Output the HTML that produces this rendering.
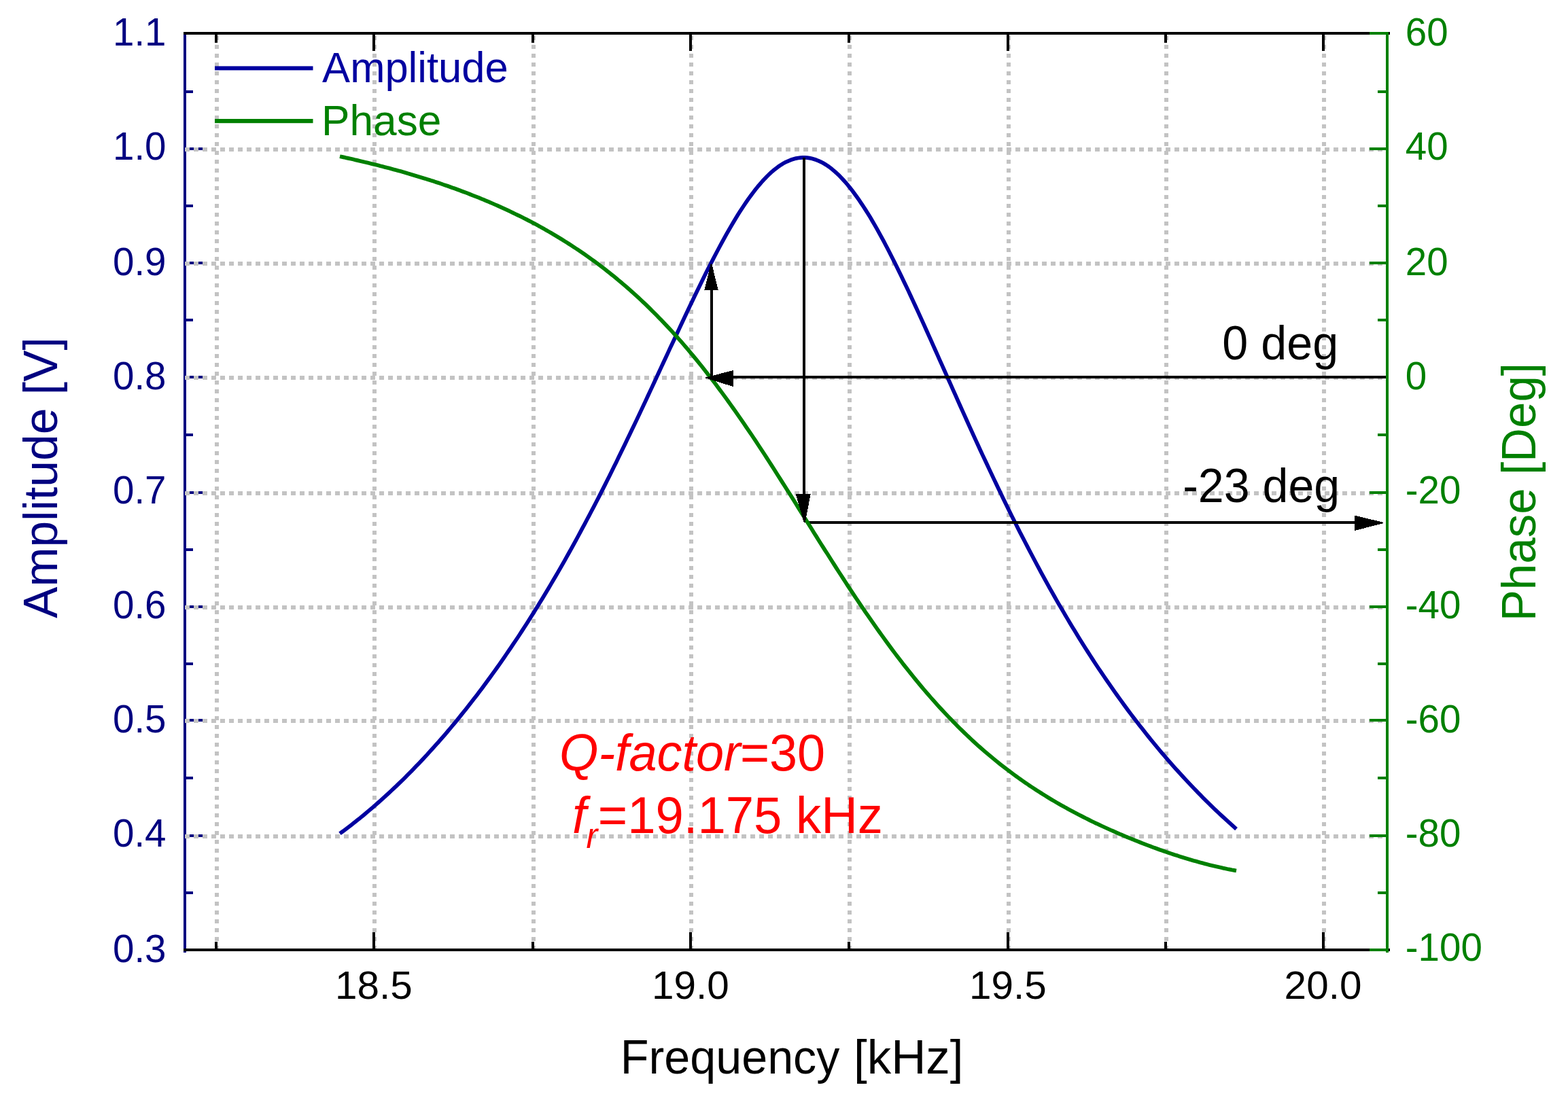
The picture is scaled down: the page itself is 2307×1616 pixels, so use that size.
<!DOCTYPE html>
<html lang="en"><head><meta charset="utf-8"><title>Amplitude and Phase vs Frequency</title>
<style>html,body{margin:0;padding:0;background:#fff;}body{width:2307px;height:1616px;overflow:hidden;}svg{display:block;}text{font-family:'Liberation Sans', sans-serif;}</style>
</head><body>
<svg width="2307" height="1616" viewBox="0 0 2307 1616">
<rect x="0" y="0" width="2307" height="1616" fill="#ffffff"/>
<g id="left-axis" fill="#000080" shape-rendering="crispEdges">
<rect x="270" y="51" width="4" height="1351"/>
<rect x="274" y="1228" width="24" height="4"/>
<rect x="274" y="1058" width="24" height="4"/>
<rect x="274" y="891" width="24" height="4"/>
<rect x="274" y="723" width="24" height="4"/>
<rect x="274" y="553" width="24" height="4"/>
<rect x="274" y="385" width="24" height="4"/>
<rect x="274" y="217" width="24" height="4"/>
<rect x="274" y="1312" width="10" height="4"/>
<rect x="274" y="1143" width="10" height="4"/>
<rect x="274" y="974.5" width="10" height="4"/>
<rect x="274" y="807" width="10" height="4"/>
<rect x="274" y="638" width="10" height="4"/>
<rect x="274" y="469" width="10" height="4"/>
<rect x="274" y="301" width="10" height="4"/>
<rect x="274" y="133" width="10" height="4"/>
</g>
<g id="grid" stroke="#c3c3c3" stroke-width="6" stroke-dasharray="6.5 6.5" fill="none" shape-rendering="crispEdges">
<line x1="272" y1="1231" x2="2039" y2="1231"/>
<line x1="272" y1="1061" x2="2039" y2="1061"/>
<line x1="272" y1="894" x2="2039" y2="894"/>
<line x1="272" y1="726" x2="2039" y2="726"/>
<line x1="272" y1="556" x2="2039" y2="556"/>
<line x1="272" y1="388" x2="2039" y2="388"/>
<line x1="272" y1="220" x2="2039" y2="220"/>
<line x1="319" y1="52.7" x2="319" y2="1396"/>
<line x1="551" y1="52.7" x2="551" y2="1396"/>
<line x1="785.3" y1="52.7" x2="785.3" y2="1396"/>
<line x1="1017.4" y1="52.7" x2="1017.4" y2="1396"/>
<line x1="1249.8" y1="52.7" x2="1249.8" y2="1396"/>
<line x1="1483.8" y1="52.7" x2="1483.8" y2="1396"/>
<line x1="1716" y1="52.7" x2="1716" y2="1396"/>
<line x1="1948" y1="52.7" x2="1948" y2="1396"/>
</g>
<path id="amplitude-curve" d="M500.0 1226.8 L503.3 1224.4 L506.6 1221.9 L509.9 1219.4 L513.2 1216.9 L516.5 1214.4 L519.8 1211.8 L523.1 1209.2 L526.4 1206.5 L529.8 1203.9 L533.1 1201.2 L536.4 1198.5 L539.7 1195.7 L543.0 1192.9 L546.3 1190.1 L549.6 1187.3 L552.9 1184.4 L556.2 1181.5 L559.5 1178.6 L562.8 1175.6 L566.1 1172.7 L569.4 1169.6 L572.7 1166.6 L576.0 1163.5 L579.3 1160.4 L582.6 1157.3 L585.9 1154.1 L589.3 1150.9 L592.6 1147.7 L595.9 1144.4 L599.2 1141.1 L602.5 1137.8 L605.8 1134.4 L609.1 1131.0 L612.4 1127.6 L615.7 1124.2 L619.0 1120.7 L622.3 1117.2 L625.6 1113.6 L628.9 1110.1 L632.2 1106.4 L635.5 1102.8 L638.8 1099.1 L642.1 1095.4 L645.5 1091.7 L648.8 1087.9 L652.1 1084.1 L655.4 1080.3 L658.7 1076.4 L662.0 1072.5 L665.3 1068.5 L668.6 1064.6 L671.9 1060.6 L675.2 1056.5 L678.5 1052.4 L681.8 1048.3 L685.1 1044.2 L688.4 1040.0 L691.7 1035.8 L695.0 1031.6 L698.3 1027.3 L701.7 1022.9 L705.0 1018.6 L708.3 1014.2 L711.6 1009.8 L714.9 1005.3 L718.2 1000.8 L721.5 996.3 L724.8 991.7 L728.1 987.1 L731.4 982.5 L734.7 977.8 L738.0 973.1 L741.3 968.3 L744.6 963.5 L747.9 958.7 L751.2 953.8 L754.5 948.9 L757.8 944.0 L761.2 939.0 L764.5 934.0 L767.8 928.9 L771.1 923.8 L774.4 918.7 L777.7 913.5 L781.0 908.3 L784.3 903.1 L787.6 897.8 L790.9 892.4 L794.2 887.1 L797.5 881.7 L800.8 876.2 L804.1 870.7 L807.4 865.2 L810.7 859.6 L814.0 854.0 L817.4 848.3 L820.7 842.6 L824.0 836.9 L827.3 831.1 L830.6 825.3 L833.9 819.4 L837.2 813.5 L840.5 807.6 L843.8 801.6 L847.1 795.6 L850.4 789.5 L853.7 783.4 L857.0 777.2 L860.3 771.1 L863.6 764.8 L866.9 758.6 L870.2 752.2 L873.6 745.9 L876.9 739.5 L880.2 733.1 L883.5 726.6 L886.8 720.1 L890.1 713.6 L893.4 707.0 L896.7 700.4 L900.0 693.8 L903.3 687.1 L906.6 680.4 L909.9 673.6 L913.2 666.8 L916.5 660.0 L919.8 653.2 L923.1 646.3 L926.4 639.5 L929.7 632.5 L933.1 625.6 L936.4 618.6 L939.7 611.6 L943.0 604.6 L946.3 597.6 L949.6 590.6 L952.9 583.5 L956.2 576.4 L959.5 569.4 L962.8 562.3 L966.1 555.1 L969.4 548.0 L972.7 540.9 L976.0 533.8 L979.3 526.7 L982.6 519.6 L985.9 512.4 L989.3 505.3 L992.6 498.2 L995.9 491.2 L999.2 484.1 L1002.5 477.0 L1005.8 470.0 L1009.1 463.0 L1012.4 456.0 L1015.7 449.1 L1019.0 442.2 L1022.3 435.3 L1025.6 428.5 L1028.9 421.7 L1032.2 414.9 L1035.5 408.3 L1038.8 401.6 L1042.1 395.0 L1045.5 388.5 L1048.8 382.1 L1052.1 375.7 L1055.4 369.5 L1058.7 363.2 L1062.0 357.1 L1065.3 351.1 L1068.6 345.2 L1071.9 339.3 L1075.2 333.6 L1078.5 328.0 L1081.8 322.5 L1085.1 317.1 L1088.4 311.8 L1091.7 306.7 L1095.0 301.7 L1098.3 296.8 L1101.6 292.1 L1105.0 287.5 L1108.3 283.1 L1111.6 278.8 L1114.9 274.7 L1118.2 270.8 L1121.5 267.0 L1124.8 263.4 L1128.1 260.0 L1131.4 256.8 L1134.7 253.7 L1138.0 250.8 L1141.3 248.2 L1144.6 245.7 L1147.9 243.4 L1151.2 241.3 L1154.5 239.4 L1157.8 237.8 L1161.2 236.3 L1164.5 235.0 L1167.8 234.0 L1171.1 233.1 L1174.4 232.5 L1177.7 232.1 L1181.0 231.9 L1184.3 231.9 L1187.6 232.2 L1190.9 232.6 L1194.2 233.3 L1197.5 234.2 L1200.8 235.3 L1204.1 236.6 L1207.4 238.1 L1210.7 239.8 L1214.0 241.8 L1217.4 243.9 L1220.7 246.3 L1224.0 248.8 L1227.3 251.6 L1230.6 254.5 L1233.9 257.6 L1237.2 261.0 L1240.5 264.5 L1243.8 268.2 L1247.1 272.0 L1250.4 276.1 L1253.7 280.3 L1257.0 284.7 L1260.3 289.2 L1263.6 293.9 L1266.9 298.8 L1270.2 303.8 L1273.5 308.9 L1276.9 314.2 L1280.2 319.6 L1283.5 325.2 L1286.8 330.9 L1290.1 336.7 L1293.4 342.6 L1296.7 348.6 L1300.0 354.7 L1303.3 361.0 L1306.6 367.3 L1309.9 373.7 L1313.2 380.2 L1316.5 386.8 L1319.8 393.5 L1323.1 400.3 L1326.4 407.1 L1329.7 414.0 L1333.1 420.9 L1336.4 427.9 L1339.7 435.0 L1343.0 442.1 L1346.3 449.2 L1349.6 456.4 L1352.9 463.6 L1356.2 470.9 L1359.5 478.2 L1362.8 485.5 L1366.1 492.9 L1369.4 500.2 L1372.7 507.6 L1376.0 515.0 L1379.3 522.4 L1382.6 529.8 L1385.9 537.2 L1389.3 544.7 L1392.6 552.1 L1395.9 559.5 L1399.2 566.9 L1402.5 574.3 L1405.8 581.7 L1409.1 589.1 L1412.4 596.5 L1415.7 603.9 L1419.0 611.2 L1422.3 618.5 L1425.6 625.8 L1428.9 633.1 L1432.2 640.4 L1435.5 647.6 L1438.8 654.8 L1442.1 662.0 L1445.4 669.1 L1448.8 676.2 L1452.1 683.3 L1455.4 690.4 L1458.7 697.4 L1462.0 704.4 L1465.3 711.3 L1468.6 718.2 L1471.9 725.1 L1475.2 731.9 L1478.5 738.7 L1481.8 745.5 L1485.1 752.2 L1488.4 758.9 L1491.7 765.5 L1495.0 772.1 L1498.3 778.6 L1501.6 785.2 L1505.0 791.6 L1508.3 798.0 L1511.6 804.4 L1514.9 810.8 L1518.2 817.0 L1521.5 823.3 L1524.8 829.5 L1528.1 835.7 L1531.4 841.8 L1534.7 847.8 L1538.0 853.9 L1541.3 859.8 L1544.6 865.8 L1547.9 871.7 L1551.2 877.5 L1554.5 883.3 L1557.8 889.1 L1561.2 894.8 L1564.5 900.4 L1567.8 906.1 L1571.1 911.6 L1574.4 917.2 L1577.7 922.7 L1581.0 928.1 L1584.3 933.5 L1587.6 938.9 L1590.9 944.2 L1594.2 949.5 L1597.5 954.7 L1600.8 959.9 L1604.1 965.0 L1607.4 970.1 L1610.7 975.2 L1614.0 980.2 L1617.3 985.2 L1620.7 990.1 L1624.0 995.0 L1627.3 999.9 L1630.6 1004.7 L1633.9 1009.4 L1637.2 1014.2 L1640.5 1018.9 L1643.8 1023.5 L1647.1 1028.1 L1650.4 1032.7 L1653.7 1037.2 L1657.0 1041.7 L1660.3 1046.2 L1663.6 1050.6 L1666.9 1055.0 L1670.2 1059.3 L1673.5 1063.6 L1676.9 1067.9 L1680.2 1072.1 L1683.5 1076.3 L1686.8 1080.5 L1690.1 1084.6 L1693.4 1088.7 L1696.7 1092.7 L1700.0 1096.7 L1703.3 1100.7 L1706.6 1104.7 L1709.9 1108.6 L1713.2 1112.4 L1716.5 1116.3 L1719.8 1120.1 L1723.1 1123.9 L1726.4 1127.6 L1729.7 1131.3 L1733.1 1135.0 L1736.4 1138.7 L1739.7 1142.3 L1743.0 1145.9 L1746.3 1149.4 L1749.6 1152.9 L1752.9 1156.4 L1756.2 1159.9 L1759.5 1163.3 L1762.8 1166.7 L1766.1 1170.1 L1769.4 1173.4 L1772.7 1176.7 L1776.0 1180.0 L1779.3 1183.2 L1782.6 1186.5 L1785.9 1189.7 L1789.2 1192.8 L1792.6 1196.0 L1795.9 1199.1 L1799.2 1202.2 L1802.5 1205.2 L1805.8 1208.2 L1809.1 1211.2 L1812.4 1214.2 L1815.7 1217.1 L1819.0 1220.1" fill="none" stroke="#0000a0" stroke-width="5.7" stroke-linejoin="round" stroke-linecap="butt"/>
<rect x="1186" y="766.8" width="810" height="4" fill="#000" shape-rendering="crispEdges"/>
<path id="phase-curve" d="M500.0 230.2 L503.3 230.9 L506.6 231.6 L509.9 232.4 L513.2 233.1 L516.5 233.8 L519.8 234.6 L523.1 235.4 L526.4 236.1 L529.8 236.9 L533.1 237.7 L536.4 238.5 L539.7 239.2 L543.0 240.1 L546.3 240.9 L549.6 241.7 L552.9 242.5 L556.2 243.3 L559.5 244.2 L562.8 245.0 L566.1 245.9 L569.4 246.8 L572.7 247.6 L576.0 248.5 L579.3 249.4 L582.6 250.3 L585.9 251.2 L589.3 252.1 L592.6 253.1 L595.9 254.0 L599.2 255.0 L602.5 255.9 L605.8 256.9 L609.1 257.9 L612.4 258.9 L615.7 259.9 L619.0 260.9 L622.3 261.9 L625.6 262.9 L628.9 264.0 L632.2 265.0 L635.5 266.1 L638.8 267.1 L642.1 268.2 L645.5 269.3 L648.8 270.4 L652.1 271.6 L655.4 272.7 L658.7 273.8 L662.0 275.0 L665.3 276.2 L668.6 277.3 L671.9 278.5 L675.2 279.7 L678.5 281.0 L681.8 282.2 L685.1 283.4 L688.4 284.7 L691.7 286.0 L695.0 287.3 L698.3 288.6 L701.7 289.9 L705.0 291.2 L708.3 292.6 L711.6 293.9 L714.9 295.3 L718.2 296.7 L721.5 298.1 L724.8 299.5 L728.1 301.0 L731.4 302.4 L734.7 303.9 L738.0 305.4 L741.3 306.9 L744.6 308.4 L747.9 309.9 L751.2 311.5 L754.5 313.1 L757.8 314.7 L761.2 316.3 L764.5 317.9 L767.8 319.5 L771.1 321.2 L774.4 322.9 L777.7 324.6 L781.0 326.3 L784.3 328.1 L787.6 329.8 L790.9 331.6 L794.2 333.4 L797.5 335.3 L800.8 337.1 L804.1 339.0 L807.4 340.9 L810.7 342.8 L814.0 344.7 L817.4 346.7 L820.7 348.7 L824.0 350.7 L827.3 352.7 L830.6 354.8 L833.9 356.9 L837.2 359.0 L840.5 361.1 L843.8 363.3 L847.1 365.5 L850.4 367.7 L853.7 369.9 L857.0 372.2 L860.3 374.4 L863.6 376.8 L866.9 379.1 L870.2 381.5 L873.6 383.9 L876.9 386.3 L880.2 388.8 L883.5 391.3 L886.8 393.8 L890.1 396.3 L893.4 398.9 L896.7 401.5 L900.0 404.2 L903.3 406.8 L906.6 409.5 L909.9 412.3 L913.2 415.0 L916.5 417.8 L919.8 420.7 L923.1 423.5 L926.4 426.4 L929.7 429.4 L933.1 432.4 L936.4 435.4 L939.7 438.4 L943.0 441.5 L946.3 444.6 L949.6 447.7 L952.9 450.9 L956.2 454.1 L959.5 457.4 L962.8 460.7 L966.1 464.0 L969.4 467.4 L972.7 470.8 L976.0 474.3 L979.3 477.7 L982.6 481.3 L985.9 484.8 L989.3 488.4 L992.6 492.1 L995.9 495.7 L999.2 499.5 L1002.5 503.2 L1005.8 507.0 L1009.1 510.9 L1012.4 514.7 L1015.7 518.7 L1019.0 522.6 L1022.3 526.6 L1025.6 530.6 L1028.9 534.7 L1032.2 538.8 L1035.5 543.0 L1038.8 547.2 L1042.1 551.4 L1045.5 555.7 L1048.8 560.0 L1052.1 564.3 L1055.4 568.7 L1058.7 573.2 L1062.0 577.6 L1065.3 582.1 L1068.6 586.7 L1071.9 591.2 L1075.2 595.8 L1078.5 600.5 L1081.8 605.2 L1085.1 609.9 L1088.4 614.6 L1091.7 619.4 L1095.0 624.2 L1098.3 629.1 L1101.6 633.9 L1105.0 638.8 L1108.3 643.8 L1111.6 648.7 L1114.9 653.7 L1118.2 658.7 L1121.5 663.8 L1124.8 668.8 L1128.1 673.9 L1131.4 679.0 L1134.7 684.1 L1138.0 689.3 L1141.3 694.5 L1144.6 699.7 L1147.9 704.9 L1151.2 710.1 L1154.5 715.3 L1157.8 720.5 L1161.2 725.8 L1164.5 731.1 L1167.8 736.3 L1171.1 741.6 L1174.4 746.9 L1177.7 752.2 L1181.0 757.5 L1184.3 762.7 L1187.6 768.0 L1190.9 773.3 L1194.2 778.6 L1197.5 783.9 L1200.8 789.1 L1204.1 794.4 L1207.4 799.7 L1210.7 804.9 L1214.0 810.1 L1217.4 815.3 L1220.7 820.6 L1224.0 825.7 L1227.3 830.9 L1230.6 836.1 L1233.9 841.2 L1237.2 846.3 L1240.5 851.4 L1243.8 856.5 L1247.1 861.6 L1250.4 866.6 L1253.7 871.6 L1257.0 876.6 L1260.3 881.5 L1263.6 886.4 L1266.9 891.3 L1270.2 896.2 L1273.5 901.1 L1276.9 905.9 L1280.2 910.7 L1283.5 915.4 L1286.8 920.1 L1290.1 924.8 L1293.4 929.5 L1296.7 934.1 L1300.0 938.7 L1303.3 943.2 L1306.6 947.7 L1309.9 952.2 L1313.2 956.7 L1316.5 961.1 L1319.8 965.5 L1323.1 969.8 L1326.4 974.1 L1329.7 978.4 L1333.1 982.6 L1336.4 986.8 L1339.7 990.9 L1343.0 995.0 L1346.3 999.1 L1349.6 1003.1 L1352.9 1007.1 L1356.2 1011.1 L1359.5 1015.0 L1362.8 1018.8 L1366.1 1022.7 L1369.4 1026.5 L1372.7 1030.2 L1376.0 1033.9 L1379.3 1037.6 L1382.6 1041.2 L1385.9 1044.8 L1389.3 1048.4 L1392.6 1051.9 L1395.9 1055.4 L1399.2 1058.8 L1402.5 1062.2 L1405.8 1065.6 L1409.1 1068.9 L1412.4 1072.2 L1415.7 1075.4 L1419.0 1078.6 L1422.3 1081.8 L1425.6 1084.9 L1428.9 1088.0 L1432.2 1091.1 L1435.5 1094.1 L1438.8 1097.1 L1442.1 1100.0 L1445.4 1102.9 L1448.8 1105.8 L1452.1 1108.6 L1455.4 1111.4 L1458.7 1114.2 L1462.0 1116.9 L1465.3 1119.6 L1468.6 1122.3 L1471.9 1124.9 L1475.2 1127.5 L1478.5 1130.1 L1481.8 1132.6 L1485.1 1135.1 L1488.4 1137.6 L1491.7 1140.0 L1495.0 1142.4 L1498.3 1144.8 L1501.6 1147.1 L1505.0 1149.5 L1508.3 1151.8 L1511.6 1154.0 L1514.9 1156.3 L1518.2 1158.5 L1521.5 1160.6 L1524.8 1162.8 L1528.1 1164.9 L1531.4 1167.0 L1534.7 1169.1 L1538.0 1171.2 L1541.3 1173.2 L1544.6 1175.2 L1547.9 1177.2 L1551.2 1179.1 L1554.5 1181.1 L1557.8 1183.0 L1561.2 1184.9 L1564.5 1186.7 L1567.8 1188.6 L1571.1 1190.4 L1574.4 1192.2 L1577.7 1194.0 L1581.0 1195.8 L1584.3 1197.5 L1587.6 1199.2 L1590.9 1200.9 L1594.2 1202.6 L1597.5 1204.3 L1600.8 1205.9 L1604.1 1207.6 L1607.4 1209.2 L1610.7 1210.8 L1614.0 1212.3 L1617.3 1213.9 L1620.7 1215.5 L1624.0 1217.0 L1627.3 1218.5 L1630.6 1220.0 L1633.9 1221.5 L1637.2 1222.9 L1640.5 1224.4 L1643.8 1225.8 L1647.1 1227.3 L1650.4 1228.7 L1653.7 1230.1 L1657.0 1231.5 L1660.3 1232.8 L1663.6 1234.2 L1666.9 1235.5 L1670.2 1236.9 L1673.5 1238.2 L1676.9 1239.5 L1680.2 1240.8 L1683.5 1242.1 L1686.8 1243.4 L1690.1 1244.6 L1693.4 1245.8 L1696.7 1247.1 L1700.0 1248.3 L1703.3 1249.5 L1706.6 1250.7 L1709.9 1251.8 L1713.2 1253.0 L1716.5 1254.1 L1719.8 1255.3 L1723.1 1256.4 L1726.4 1257.5 L1729.7 1258.6 L1733.1 1259.6 L1736.4 1260.7 L1739.7 1261.7 L1743.0 1262.7 L1746.3 1263.7 L1749.6 1264.7 L1752.9 1265.7 L1756.2 1266.7 L1759.5 1267.6 L1762.8 1268.5 L1766.1 1269.4 L1769.4 1270.3 L1772.7 1271.2 L1776.0 1272.1 L1779.3 1272.9 L1782.6 1273.7 L1785.9 1274.5 L1789.2 1275.3 L1792.6 1276.1 L1795.9 1276.8 L1799.2 1277.6 L1802.5 1278.3 L1805.8 1279.0 L1809.1 1279.6 L1812.4 1280.3 L1815.7 1280.9 L1819.0 1281.5" fill="none" stroke="#008000" stroke-width="5.7" stroke-linejoin="round" stroke-linecap="butt"/>
<g id="x-axes" fill="#000" shape-rendering="crispEdges">
<rect x="270" y="47" width="1775" height="4"/>
<rect x="270" y="1396" width="1775" height="4"/>
<rect x="316" y="51" width="4" height="12"/>
<rect x="316" y="1386" width="4" height="10"/>
<rect x="548" y="51" width="4" height="24"/>
<rect x="548" y="1372" width="4" height="24"/>
<rect x="782.3" y="51" width="4" height="12"/>
<rect x="782.3" y="1386" width="4" height="10"/>
<rect x="1014.4" y="51" width="4" height="24"/>
<rect x="1014.4" y="1372" width="4" height="24"/>
<rect x="1246.8" y="51" width="4" height="12"/>
<rect x="1246.8" y="1386" width="4" height="10"/>
<rect x="1480.8" y="51" width="4" height="24"/>
<rect x="1480.8" y="1372" width="4" height="24"/>
<rect x="1713" y="51" width="4" height="12"/>
<rect x="1713" y="1386" width="4" height="10"/>
<rect x="1945" y="51" width="4" height="24"/>
<rect x="1945" y="1372" width="4" height="24"/>
</g>
<g id="right-axis" fill="#008000" shape-rendering="crispEdges">
<rect x="2039" y="47" width="4" height="1355"/>
<rect x="2015" y="1396" width="24" height="4"/>
<rect x="2015" y="1228" width="24" height="4"/>
<rect x="2015" y="1058" width="24" height="4"/>
<rect x="2015" y="891" width="24" height="4"/>
<rect x="2015" y="723" width="24" height="4"/>
<rect x="2015" y="553" width="24" height="4"/>
<rect x="2015" y="385" width="24" height="4"/>
<rect x="2015" y="217" width="24" height="4"/>
<rect x="2015" y="47" width="24" height="4"/>
<rect x="2027" y="1312" width="12" height="4"/>
<rect x="2027" y="1143" width="12" height="4"/>
<rect x="2027" y="974.5" width="12" height="4"/>
<rect x="2027" y="807" width="12" height="4"/>
<rect x="2027" y="638" width="12" height="4"/>
<rect x="2027" y="469" width="12" height="4"/>
<rect x="2027" y="301" width="12" height="4"/>
<rect x="2027" y="133" width="12" height="4"/>
</g>
<g id="legend">
<rect x="316" y="97.4" width="144.5" height="6" fill="#0000a0"/>
<rect x="316" y="175" width="144.5" height="6.2" fill="#008000"/>
<text transform="translate(474.1,121.2) scale(1.0000,1.0194)" font-size="61.55" fill="#0000a0">Amplitude</text>
<text transform="translate(473.02,199.1) scale(1.0000,1.0129)" font-size="62.21" fill="#008000">Phase</text>
</g>
<g id="annotations" fill="#000" shape-rendering="crispEdges">
<rect x="1180.7" y="232" width="4" height="498"/>
<polygon points="1170.7,727 1192.7,727 1184.7,769 1182.7,769"/>
<polygon points="1993,758.5 1993,781 2035,770.2 2035,768.8"/>
<rect x="1076" y="553" width="963" height="4"/>
<polygon points="1078.7,545 1078.7,569 1038.4,556.5 1038.4,555.5"/>
<rect x="1044.5" y="424" width="4" height="133"/>
<polygon points="1036.3,427 1056.8,427 1047.2,388 1045.8,388"/>
</g>
<g id="left-labels" font-size="56.5" fill="#000080" text-anchor="end">
<text x="244.5" y="67.1">1.1</text>
<text x="244.5" y="234.7">1.0</text>
<text x="244.5" y="404.8">0.9</text>
<text x="244.5" y="572.8">0.8</text>
<text x="244.5" y="740.8">0.7</text>
<text x="244.5" y="910.2">0.6</text>
<text x="244.5" y="1078">0.5</text>
<text x="244.5" y="1246">0.4</text>
<text x="244.5" y="1415.9">0.3</text>
</g>
<g id="right-labels" font-size="56.5" fill="#008000">
<text x="2067.8" y="67.1">60</text>
<text x="2067.8" y="234.7">40</text>
<text x="2067.8" y="404.8">20</text>
<text x="2067.8" y="572.8">0</text>
<text x="2067.8" y="740.8">-20</text>
<text x="2067.8" y="910.2">-40</text>
<text x="2067.8" y="1078">-60</text>
<text x="2067.8" y="1246">-80</text>
<text x="2067.8" y="1413.9">-100</text>
</g>
<g id="bottom-labels" fill="#000">
<text transform="translate(493.09,1470) scale(1.035,1)" font-size="56.5">18.5</text>
<text transform="translate(958.91,1470) scale(1.035,1)" font-size="56.5">19.0</text>
<text transform="translate(1425.89,1470) scale(1.035,1)" font-size="56.5">19.5</text>
<text transform="translate(1889.61,1470) scale(1.035,1)" font-size="56.5">20.0</text>
</g>
<text id="xlabel" transform="translate(0,1580) scale(1,1.02)" font-size="69.3" fill="#000"><tspan x="912.84" y="0" textLength="322.58" lengthAdjust="spacingAndGlyphs">Frequency</tspan> <tspan x="1256.04" y="0" textLength="161.48" lengthAdjust="spacingAndGlyphs">[kHz]</tspan></text>
<text id="ylabel" transform="translate(84.2,910) rotate(-90) scale(1,1.02)" font-size="69.61" fill="#000080">Amplitude [V]</text>
<text id="y2label" transform="translate(2259.1,914.23) rotate(-90) scale(1,1.02)" font-size="69.12" fill="#008000">Phase [Deg]</text>
<text transform="translate(1798.37,528.9) scale(1.0000,1.0200)" font-size="68.25" fill="#000">0 deg</text>
<text transform="translate(1740.18,738.5) scale(1.0000,1.0200)" font-size="68.12" fill="#000">-23 deg</text>
<text id="qfactor" transform="translate(823.11,1134.1) scale(1,1.03)" font-size="73.8" fill="#ff0000"><tspan font-style="italic">Q-factor</tspan><tspan x="265.88">=30</tspan></text>
<text id="fres" transform="translate(0,1226) scale(1,1.03)" font-size="74.3" fill="#ff0000"><tspan x="842.03" y="0" font-style="italic">f</tspan><tspan x="862.56" y="21.36" font-style="italic" font-size="50.34">r</tspan><tspan x="879.86" y="0">=19.175 kHz</tspan></text>
</svg>
</body></html>
